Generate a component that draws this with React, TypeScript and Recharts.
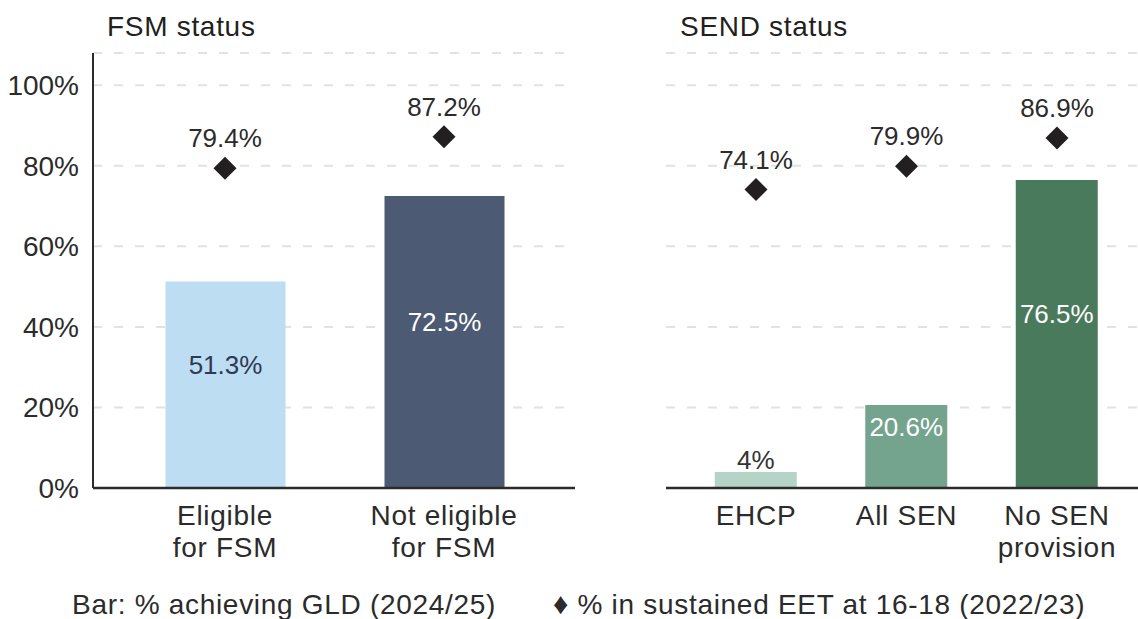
import React from 'react';
import { ComposedChart, Bar, Line, XAxis, YAxis, CartesianGrid, Cell, LabelList } from 'recharts';

// FSM panel
const fsmCategories = ['Eligible\nfor FSM', 'Not eligible\nfor FSM'];
const fsmGld = [51.3, 72.5];
const fsmEet = [79.4, 87.2];

// SEND panel
const sendCategories = ['EHCP', 'All SEN', 'No SEN\nprovision'];
const sendGld = [4, 20.6, 76.5];
const sendEet = [74.1, 79.9, 86.9];

const yTicks = [0, 20, 40, 60, 80, 100];

const fsmColors = ['#BDDDF2', '#4C5A73'];
const fsmLabelColors = ['#2E3A55', '#ffffff'];
const sendColors = ['#B5D3C6', '#74A38E', '#4A7A5C'];
const sendLabelColors = ['#333333', '#ffffff', '#ffffff'];

const FONT = '"Liberation Sans", Arial, Helvetica, sans-serif';
const TEXT = '#2b2b2b';

const fsmData = fsmCategories.map((name, i) => ({ name, gld: fsmGld[i], eet: fsmEet[i] }));
const sendData = sendCategories.map((name, i) => ({ name, gld: sendGld[i], eet: sendEet[i] }));

const MultiLineTick = (props: any) => {
  const { x, y, payload } = props;
  const lines = String(payload.value).split('\n');
  return (
    <text x={x} y={y} textAnchor="middle" fill={TEXT} fontSize={28} letterSpacing={0.7}>
      {lines.map((l, i) => (
        <tspan key={i} x={x} dy={i === 0 ? 37 : 32}>{l}</tspan>
      ))}
    </text>
  );
};

const Diamond = (props: any) => {
  const { cx, cy, index } = props;
  if (cx == null || cy == null) return <g key={index} />;
  const r = 11.5;
  return (
    <path
      key={index}
      d={`M${cx},${cy - r} L${cx + r},${cy} L${cx},${cy + r} L${cx - r},${cy} Z`}
      fill="#231F20"
    />
  );
};

const makeBarLabel = (colors: string[]) => (props: any) => {
  const vb = props.viewBox ?? props;
  const { x, y, width, height } = vb;
  const idx = props.index ?? 0;
  return (
    <text
      x={x + width / 2}
      y={y + height / 2 - 20}
      dy="0.35em"
      textAnchor="middle"
      fill={colors[idx]}
      fontSize={26}
    >
      {`${props.value}%`}
    </text>
  );
};

interface PanelProps {
  data: { name: string; gld: number; eet: number }[];
  colors: string[];
  labelColors: string[];
  width: number;
  showY: boolean;
  barSize: number;
  padding: { left: number; right: number };
}

const Panel: React.FC<PanelProps> = ({ data, colors, labelColors, width, showY, barSize, padding }) => (
  <ComposedChart width={width} height={580} data={data} margin={{ top: 53, right: 0, left: 0, bottom: 0 }}>
    <CartesianGrid vertical={false} stroke="#e2e2e2" strokeWidth={2} strokeDasharray="9 12" />
    <XAxis
      dataKey="name"
      height={92}
      interval={0}
      tickLine={false}
      tickSize={0}
      tickMargin={0}
      axisLine={{ stroke: '#2b2b2b', strokeWidth: 2.5 }}
      tick={<MultiLineTick />}
      padding={padding}
    />
    <YAxis
      hide={!showY}
      width={93}
      domain={[0, 108]}
      ticks={yTicks}
      tickFormatter={(v) => `${v}%`}
      tickLine={false}
      tickSize={0}
      tickMargin={14}
      axisLine={{ stroke: '#2b2b2b', strokeWidth: 2 }}
      tick={{ fill: TEXT, fontSize: 28 }}
    />
    <Bar dataKey="gld" barSize={barSize} isAnimationActive={false}>
      {data.map((_, i) => (
        <Cell key={i} fill={colors[i]} />
      ))}
      <LabelList dataKey="gld" content={makeBarLabel(labelColors)} />
    </Bar>
    <Line
      dataKey="eet"
      stroke="none"
      dot={Diamond}
      activeDot={false}
      isAnimationActive={false}
    >
      <LabelList
        dataKey="eet"
        position="top"
        offset={21}
        fill={TEXT}
        fontSize={26}
        formatter={(v: any) => `${v}%`}
      />
    </Line>
  </ComposedChart>
);

const textStyle: React.CSSProperties = {
  position: 'absolute',
  fontSize: 28,
  lineHeight: '32px',
  letterSpacing: 0.7,
  whiteSpace: 'nowrap',
};

export default function App() {
  return (
    <div
      style={{
        position: 'absolute',
        left: 0,
        top: 0,
        width: 1138,
        height: 619,
        overflow: 'hidden',
        background: '#fff',
        fontFamily: FONT,
        color: TEXT,
      }}
    >
      <div style={{ position: 'absolute', left: 0, top: 0 }}>
        <Panel
          data={fsmData}
          colors={fsmColors}
          labelColors={fsmLabelColors}
          width={575}
          showY
          barSize={120}
          padding={{ left: 22.5, right: 21.5 }}
        />
      </div>
      <div style={{ position: 'absolute', left: 666, top: 0 }}>
        <Panel
          data={sendData}
          colors={sendColors}
          labelColors={sendLabelColors}
          width={472}
          showY={false}
          barSize={82}
          padding={{ left: 14.75, right: 5.75 }}
        />
      </div>
      <div style={{ ...textStyle, left: 107, top: 11, color: '#231F20' }}>FSM status</div>
      <div style={{ ...textStyle, left: 680, top: 11, color: '#231F20' }}>SEND status</div>
      <div style={{ ...textStyle, left: 72, top: 589 }}>Bar: % achieving GLD (2024/25)</div>
      <div style={{ ...textStyle, left: 553, top: 589 }}>
        <span style={{ fontSize: 30, lineHeight: 1 }}>♦</span> % in sustained EET at 16-18 (2022/23)
      </div>
    </div>
  );
}
